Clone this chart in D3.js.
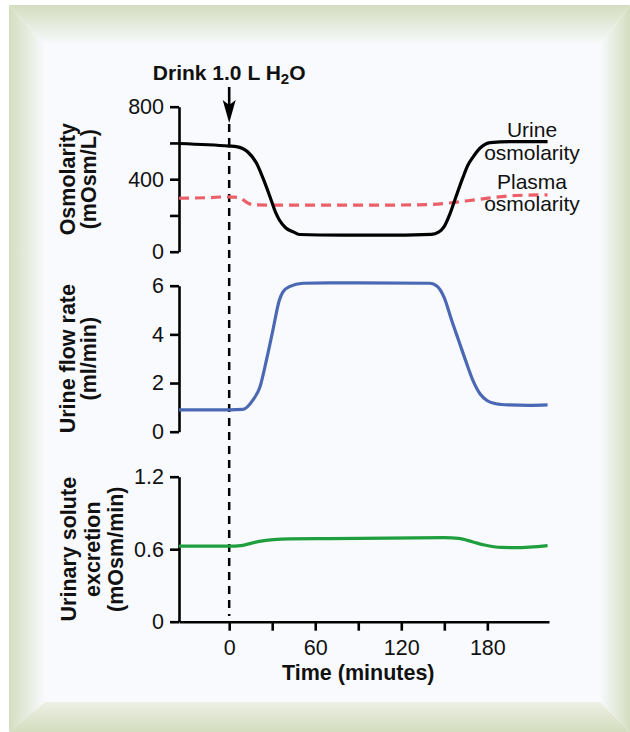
<!DOCTYPE html>
<html>
<head>
<meta charset="utf-8">
<script src="https://cdn.jsdelivr.net/npm/d3@7"></script>
<style>
body{margin:0;background:#fff;}
svg{display:block;font-family:"Liberation Sans",Arial,Helvetica,sans-serif;}
</style>
</head>
<body>
<svg width="630" height="732"></svg>
<script>
/*data*/
const timeTicks=[0,30,60,90,120,150,180]
const timeLabels=[0,60,120,180]
const osmTicks=[0,200,400,600,800]
const osmLabels=[0,400,800]
const flowTicks=[0,2,4,6]
const soluteTicks=[0,0.6,1.2]

const urineOsmTime=[-35,0,5,13,19,23.5,28.5,32.5,35,39.5,44.5,49,63,105,141,146,150,154,158,163,166.5,170,175,182,196,222]
const urineOsm=[597,583,580,550,489,407,302,214,175,131,110,95,92,91,96,108,140,210,300,410,478,522,572,602,607,607]

const plasmaTime=[-35,-15,0,7,13,17,40,100,140,155,175,200,222]
const plasmaOsm=[295,298,303,298,269,258,257,257,260,270,290,310,314]

const flowTime=[-35,0,9.5,16.5,21.5,26,30.5,35,37.5,42,51.5,70,140,145,150,155,160,165,170,175,180,186,195,209,222]
const flowRate=[0.9,0.9,0.92,1.3,1.85,2.95,4.18,5.41,5.75,5.96,6.1,6.12,6.1,5.98,5.5,4.6,3.75,2.9,2.1,1.55,1.27,1.15,1.1,1.08,1.1]

const soluteTime=[-35,0,8,21,42,70,150,160,170,178,190,200,222]
const soluteRate=[0.625,0.625,0.63,0.665,0.685,0.688,0.695,0.69,0.66,0.635,0.615,0.613,0.63]

let svg=d3.select('svg')

/*frame*/
let green='#d4ddbf', inner='#f8fafd'
let defs=svg.append('defs')
function grad(id,x1,y1,x2,y2,c1,c2){
  let g=defs.append('linearGradient').attr('id',id).attr('gradientUnits','userSpaceOnUse')
    .attr('x1',x1).attr('y1',y1).attr('x2',x2).attr('y2',y2)
  g.append('stop').attr('offset',0).attr('stop-color',c1)
  g.append('stop').attr('offset',1).attr('stop-color',c2)
}
grad('gTop',0,5,0,45,green,inner)
grad('gLeft',9,0,45,0,green,inner)
grad('gRight',600,0,630,0,inner,green)
grad('gBottom',0,702,0,732,'#edf0e4',green)
svg.append('rect').attr('x',45).attr('y',45).attr('width',555).attr('height',657).attr('fill',inner)
let frame=[
  ['gTop',[[9,5],[630,5],[600,45],[45,45]]],
  ['gLeft',[[9,5],[45,45],[45,702],[9,732]]],
  ['gRight',[[630,5],[630,732],[600,702],[600,45]]],
  ['gBottom',[[9,732],[45,702],[600,702],[630,732]]]
]
svg.selectAll('polygon.frame').data(frame).enter().append('polygon').attr('class','frame')
  .attr('points',d=>d[1].map(p=>p.join(',')).join(' '))
  .attr('fill',d=>'url(#'+d[0]+')')

/*scales*/
let x=d3.scaleLinear().domain([-35,223]).range([179,549])
let y1=d3.scaleLinear().domain([0,800]).range([251.7,106.7])
let y2=d3.scaleLinear().domain([0,6]).range([431.7,285.7])
let y3=d3.scaleLinear().domain([0,1.2]).range([621.7,476.7])

function styleAxis(g){
  g.selectAll('path,line').attr('stroke','#000').attr('stroke-width',2.6)
  g.selectAll('text').attr('font-size',21.5).attr('fill','#111')
  g.attr('font-family',null)
}

svg.append('g').attr('transform','translate(179,0)')
  .call(d3.axisLeft(y1).tickValues(osmTicks).tickSize(9).tickSizeOuter(0).tickPadding(6)
    .tickFormat(d=>osmLabels.includes(d)?d:''))
  .call(styleAxis)
svg.append('g').attr('transform','translate(179,0)')
  .call(d3.axisLeft(y2).tickValues(flowTicks).tickSize(9).tickSizeOuter(0).tickPadding(6)
    .tickFormat(d3.format('d')))
  .call(styleAxis)
svg.append('g').attr('transform','translate(179,0)')
  .call(d3.axisLeft(y3).tickValues(soluteTicks).tickSize(9).tickSizeOuter(0).tickPadding(6)
    .tickFormat(d3.format('.1~f')))
  .call(styleAxis)
svg.append('g').attr('transform','translate(0,621.7)')
  .call(d3.axisBottom(x).tickValues(timeTicks).tickSize(9).tickSizeOuter(0).tickPadding(9)
    .tickFormat(d=>timeLabels.includes(d)?d:''))
  .call(styleAxis)

/*y labels*/
let ylabels=[
  [y1,['Osmolarity','(mOsm/L)'],[75,96]],
  [y2,['Urine flow rate','(ml/min)'],[75,96]],
  [y3,['Urinary solute','excretion','(mOsm/min)'],[76,100,123]]
]
ylabels.forEach(function(l){
  let cy=(l[0].range()[0]+l[0].range()[1])/2
  l[1].forEach(function(t,i){
    svg.append('text').attr('transform','translate('+l[2][i]+','+cy+') rotate(-90)')
      .attr('text-anchor','middle').attr('font-size',21.5).attr('font-weight','bold').attr('fill','#111')
      .text(t)
  })
})

svg.append('text').attr('x',x(90)).attr('y',680).attr('text-anchor','middle')
  .attr('font-size',21.5).attr('font-weight','bold').attr('fill','#111').text('Time (minutes)')

/*drink marker*/
let title=svg.append('text').attr('x',x(0)).attr('y',80).attr('text-anchor','middle')
  .attr('font-size',21).attr('font-weight','bold').attr('fill','#111')
title.append('tspan').text('Drink 1.0 L H')
title.append('tspan').attr('font-size',15).attr('dy',4).text('2')
title.append('tspan').attr('dy',-4).text('O')

svg.append('line').attr('x1',x(0)).attr('x2',x(0)).attr('y1',87).attr('y2',106)
  .attr('stroke','#000').attr('stroke-width',2.6)
svg.append('path')
  .attr('d','M'+(x(0)-6.5)+',100 L'+x(0)+',123 L'+(x(0)+6.5)+',100 L'+x(0)+',105 Z')
  .attr('fill','#000')
svg.append('line').attr('x1',x(0)).attr('x2',x(0)).attr('y1',124).attr('y2',616)
  .attr('stroke','#000').attr('stroke-width',2.5).attr('stroke-dasharray','8,6')

/*series*/
function draw(times,vals,y,color,dash){
  let line=d3.line().x(d=>x(d[0])).y(d=>y(d[1])).curve(d3.curveMonotoneX)
  svg.append('path').datum(d3.zip(times,vals)).attr('d',line)
    .attr('fill','none').attr('stroke',color).attr('stroke-width',3.2)
    .attr('stroke-dasharray',dash||null)
}
draw(plasmaTime,plasmaOsm,y1,'#ec5f68','10,6')
draw(urineOsmTime,urineOsm,y1,'#000')
draw(flowTime,flowRate,y2,'#4a68b4')
draw(soluteTime,soluteRate,y3,'#1f9e3e')

/*legend*/
let legend=[['Urine',136.5],['osmolarity',160],['Plasma',189],['osmolarity',210.5]]
svg.selectAll('text.legend').data(legend).enter().append('text').attr('class','legend')
  .attr('x',532).attr('y',d=>d[1]).attr('text-anchor','middle')
  .attr('font-size',21).attr('fill','#111').text(d=>d[0])
</script>
</body>
</html>
